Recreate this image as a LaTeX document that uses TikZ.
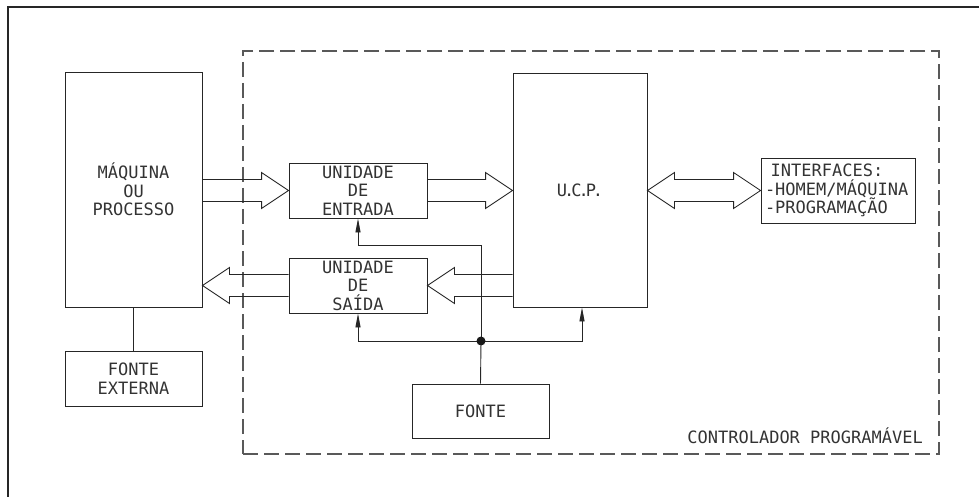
\documentclass[tikz,border=0pt]{standalone}
\usepackage{fontspec}
\newfontfamily\cadfont{DejaVu Sans Mono}
\usetikzlibrary{calc,arrows.meta}
\tikzset{
  ln/.style={draw=black!85,line width=0.9pt},
  box/.style={ln,rectangle,inner sep=0pt,align=center,text=black!80,
    font=\cadfont\fontsize{17}{18.5}\selectfont},
  blk/.style={ln,line join=miter},
  feed/.style={ln,-{Triangle[length=14pt,width=5pt]}},
  dashbox/.style={draw=black!65,line width=1.2pt,dash pattern=on 15pt off 6pt},
  lbl/.style={text=black!80,font=\cadfont\fontsize{17}{18.5}\selectfont,inner sep=0pt}
}
\newcommand{\rblock}[2]{\draw[blk] ($(#1)+(0,-11)$) -- ($(#2)+(-27,-11)$) -- ($(#2)+(-27,-18)$) -- (#2) -- ($(#2)+(-27,18)$) -- ($(#2)+(-27,11)$) -- ($(#1)+(0,11)$);}
\newcommand{\lblock}[2]{\draw[blk] ($(#1)+(0,-11)$) -- ($(#2)+(27,-11)$) -- ($(#2)+(27,-18)$) -- (#2) -- ($(#2)+(27,18)$) -- ($(#2)+(27,11)$) -- ($(#1)+(0,11)$);}
\begin{document}
\begin{tikzpicture}[x=1pt,y=-1pt]
\useasboundingbox (0,0) rectangle (979,497);
% outer frame (only top and left visible)
\draw[ln,line width=1.1pt] (979,7) -- (8,7) -- (8,497);
% controller dashed outline
\node[dashbox,rectangle,minimum width=696pt,minimum height=403pt,inner sep=0pt] (cp) at (591,252.5) {};
\node[lbl,anchor=base east] (cplabel) at (923,443) {CONTROLADOR PROGRAMÁVEL};
% boxes
\node[box,minimum width=137pt,minimum height=235pt] (maq) at (133.5,189.5) {MÁQUINA\\OU\\PROCESSO};
\node[box,minimum width=138pt,minimum height=55pt] (ent) at (358,190.5) {UNIDADE\\DE\\ENTRADA};
\node[box,minimum width=138pt,minimum height=55pt] (sai) at (358,285.5) {UNIDADE\\DE\\SAÍDA};
\node[box,minimum width=134pt,minimum height=234pt] (ucp) at (580,190) {U\kern-3pt.\kern-3pt C\kern-3pt.\kern-3pt P\kern-3pt.};
\node[box,minimum width=154pt,minimum height=65pt,align=left,text width=146pt,inner xsep=4pt] (intf) at (838,190.5) {\ INTERFACES:\\-HOMEM/MÁQUINA\\-PROGRAMAÇÃO};
\node[box,minimum width=137pt,minimum height=55pt] (fext) at (133.5,378.5) {FONTE\\EXTERNA};
\node[box,minimum width=137pt,minimum height=54pt] (fonte) at (480.5,411) {FONTE};
% block arrows
\coordinate (a1) at (maq.east |- ent.west);
\coordinate (t2) at (ucp.west |- ent.east);
\coordinate (a3) at (ucp.west |- sai.east);
\coordinate (t4) at (maq.east |- sai.west);
\rblock{a1}{ent.west}
\rblock{ent.east}{t2}
\lblock{a3}{sai.east}
\lblock{sai.west}{t4}
\coordinate (dl) at (ucp.east |- intf.west);
\draw[blk] (dl) -- ++(27,-18) -- ++(0,7) -- ($(intf.west)+(-27,-11)$) -- ++(0,-7) -- (intf.west) -- ++(-27,18) -- ++(0,-7) -- ($(dl)+(27,11)$) -- ++(0,7) -- cycle;
% power distribution
\coordinate (dot) at (481,341);
\coordinate (bend) at (0,245);
\draw[feed] (dot) -- (dot |- bend) -| (ent.south);
\draw[feed] (dot) -| (sai.south);
\draw[feed] (dot) -| ($(ucp.south)+(2,0)$);
\draw[ln] (dot) -- (fonte.north);
\fill[black!90] (dot) circle (4.5pt);
\draw[ln] (maq.south) -- (fext.north);
\end{tikzpicture}
\end{document}
